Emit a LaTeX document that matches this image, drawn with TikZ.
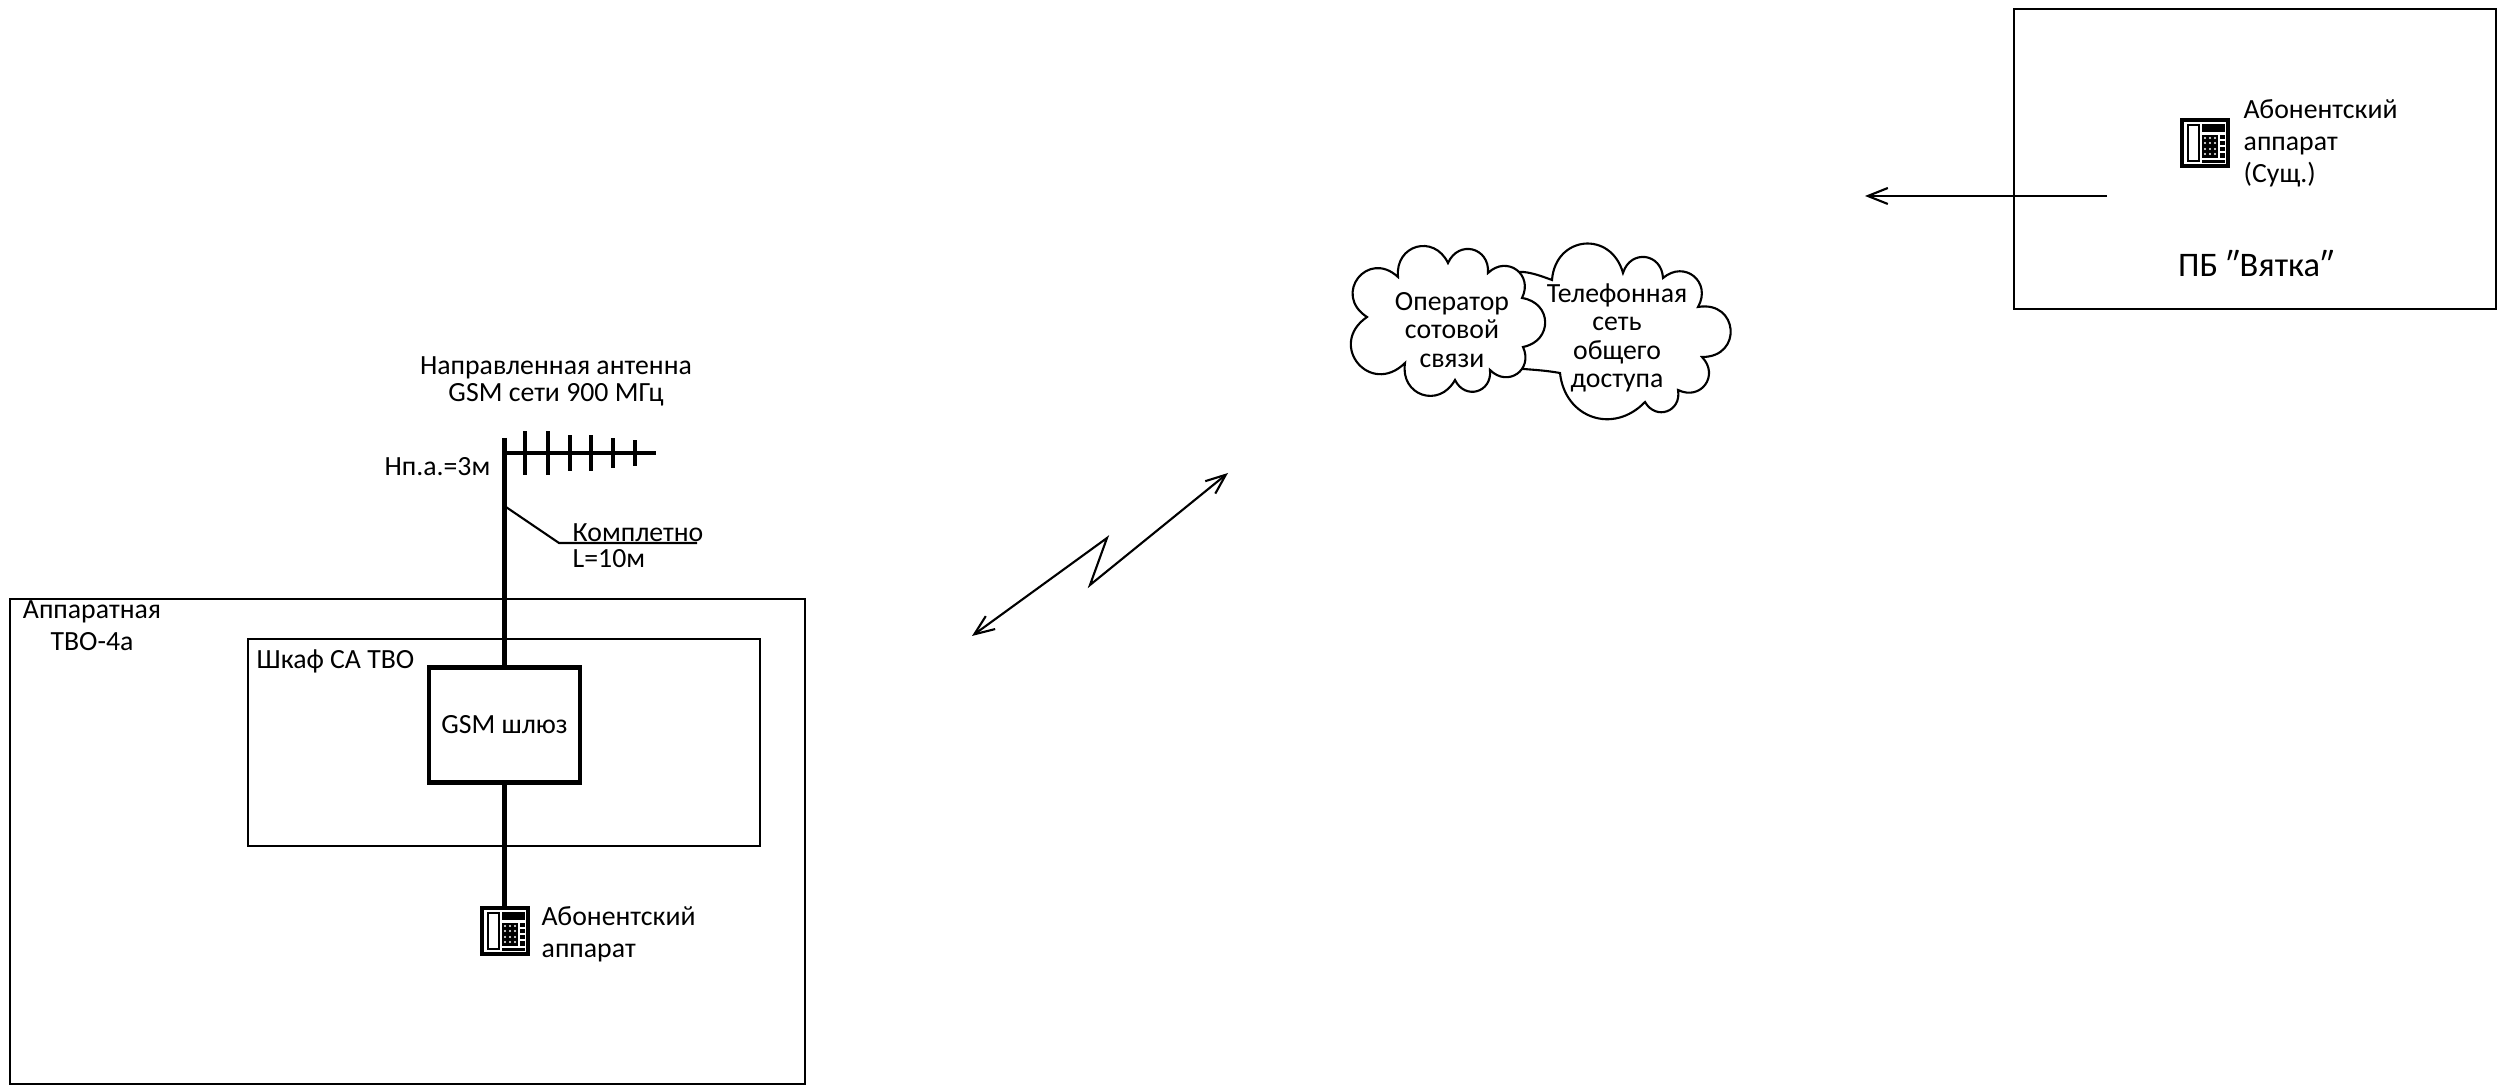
\documentclass[tikz,border=0pt]{standalone}
\usepackage{fontspec}
\setmainfont{Carlito}
\usetikzlibrary{arrows.meta,positioning}
\tikzset{
  thinline/.style={line width=0.6pt},
  mastline/.style={line width=1.4pt},
  radio/.style={thinline, {Straight Barb[length=2mm,width=1.6mm]}-{Straight Barb[length=2mm,width=1.6mm]}},
  bump/.style={bend left=80, looseness=1.6},
  bigbump/.style={bend left=95, looseness=2.1},
  flatbump/.style={bend left=65, looseness=1.3},
  pics/phone/.style={code={
    % body, handset, display, keys; origin is the top left corner
    \draw[line width=0.9pt, fill=white] (0,0) rectangle (0.46,-0.46);
    \draw[line width=0.7pt] (0.06,-0.05) rectangle (0.17,-0.41);
    \fill (0.20,-0.04) rectangle (0.43,-0.12);
    \fill (0.20,-0.15) rectangle (0.36,-0.38);
    \fill (0.38,-0.15) rectangle (0.43,-0.38);
    \fill (0.20,-0.40) rectangle (0.43,-0.43);
    \foreach \kx in {0.23,0.28,0.33} \foreach \ky in {-0.18,-0.23,-0.29,-0.34}
      \fill[white] (\kx,\ky) circle (0.012);
    \foreach \ky in {-0.20,-0.26,-0.32} \draw[white, line width=0.3pt] (0.38,\ky) -- (0.43,\ky);
  }}
}
\begin{document}
\begin{tikzpicture}[x=1cm, y=1cm, every node/.style={font=\fontsize{7.9}{9}\selectfont, inner sep=0pt}]
\useasboundingbox (0,0) rectangle (25.10,10.91);
% room, cabinet and the far building
\draw[thinline] (0.10,0.07) rectangle (8.05,4.92);
\draw[thinline] (2.48,2.45) rectangle (7.60,4.52);
\draw[thinline] (20.14,7.82) rectangle (24.96,10.82);
% gateway with mast and telephone
\node[draw, mastline, minimum width=1.51cm, minimum height=1.15cm] (gsm) at (5.045,3.66) {GSM шлюз};
\coordinate (masttop) at (5.045,6.53);
\coordinate (phonetop) at (5.045,1.83);
\draw[mastline] (masttop) -- (gsm.north);
\draw[mastline] (gsm.south) -- (phonetop);
\pic at (4.82,1.83) {phone};
% antenna
\coordinate (boomstart) at (5.045,6.38);
\coordinate (boomend) at (6.56,6.38);
\draw[mastline] (boomstart) -- (boomend);
\foreach \x/\h in {5.25/0.22, 5.48/0.22, 5.70/0.18, 5.91/0.18, 6.13/0.15, 6.35/0.13}
  \draw[mastline] (\x,6.38-\h) -- (\x,6.38+\h);
\node[align=center, font=\fontsize{7.9}{7.7}\selectfont] (anttext) at (5.56,7.10) {Направленная антенна\\GSM сети 900 МГц};
\node[anchor=east] (height) at (4.91,6.24) {Нп.а.=3м};
% cable note
\coordinate (cablefrom) at (5.045,5.85);
\coordinate (cablebend) at (5.59,5.48);
\coordinate (cableend) at (6.97,5.48);
\draw[thinline] (cablefrom) -- (cablebend) -- (cableend);
\node[anchor=west] (cable) at (5.72,5.58) {Комплетно};
\node[anchor=west] (cablelen) at (5.72,5.32) {L=10м};
% labels of the room
\node[align=center] (room) at (0.92,4.65) {Аппаратная\\ТВО-4а};
\node[anchor=west] (cabinet) at (2.56,4.30) {Шкаф СА ТВО};
\node[anchor=west, align=left] (phonetext) at (5.41,1.57) {Абонентский\\аппарат};
% radio link
\coordinate (linka) at (9.72,4.55);
\coordinate (linkb) at (11.07,5.53);
\coordinate (linkc) at (10.90,5.06);
\coordinate (linkd) at (12.28,6.18);
\draw[radio] (linka) -- (linkb) -- (linkc) -- (linkd);
% telephone network cloud, then the operator cloud on top of it
\draw[thinline, fill=white] (15.52,8.11) to[bump] (16.23,8.18) to[bump] (16.63,8.13) to[bump] (16.98,7.84) to[bigbump] (17.02,7.34) to[bump] (16.78,7.01) to[bump] (16.45,6.89) to[flatbump] (15.60,7.18) to[out=170,in=-10] (15.00,7.25) -- (15.00,8.10) to[out=50,in=160] cycle;
\draw[thinline, fill=white] (13.98,8.14) to[bump] (14.48,8.28) to[bump] (14.88,8.18) to[bump] (15.22,7.93) to[bump] (15.23,7.44) to[bump] (14.90,7.21) to[bump] (14.55,7.11) to[bump] (14.05,7.28) to[bigbump] (13.67,7.74) to[bigbump] cycle;
\node[align=center, font=\fontsize{7.9}{8.2}\selectfont] (operator) at (14.52,7.61) {Оператор\\сотовой\\связи};
\node[align=center, font=\fontsize{7.9}{8.1}\selectfont] (pstn) at (16.17,7.53) {Телефонная\\сеть\\общего\\доступа};
% far subscriber
\pic at (21.82,9.71) {phone};
\node[anchor=west, align=left, font=\fontsize{7.9}{9.1}\selectfont] (farphone) at (22.43,9.48) {Абонентский\\аппарат\\(Сущ.)};
\node[font=\fontsize{9.8}{12}\selectfont] (building) at (22.56,8.27) {ПБ ″Вятка″};
\coordinate (outstart) at (21.07,8.95);
\coordinate (outend) at (18.65,8.95);
\draw[thinline, -{Straight Barb[length=2mm,width=1.6mm]}] (outstart) -- (outend);
\end{tikzpicture}
\end{document}
